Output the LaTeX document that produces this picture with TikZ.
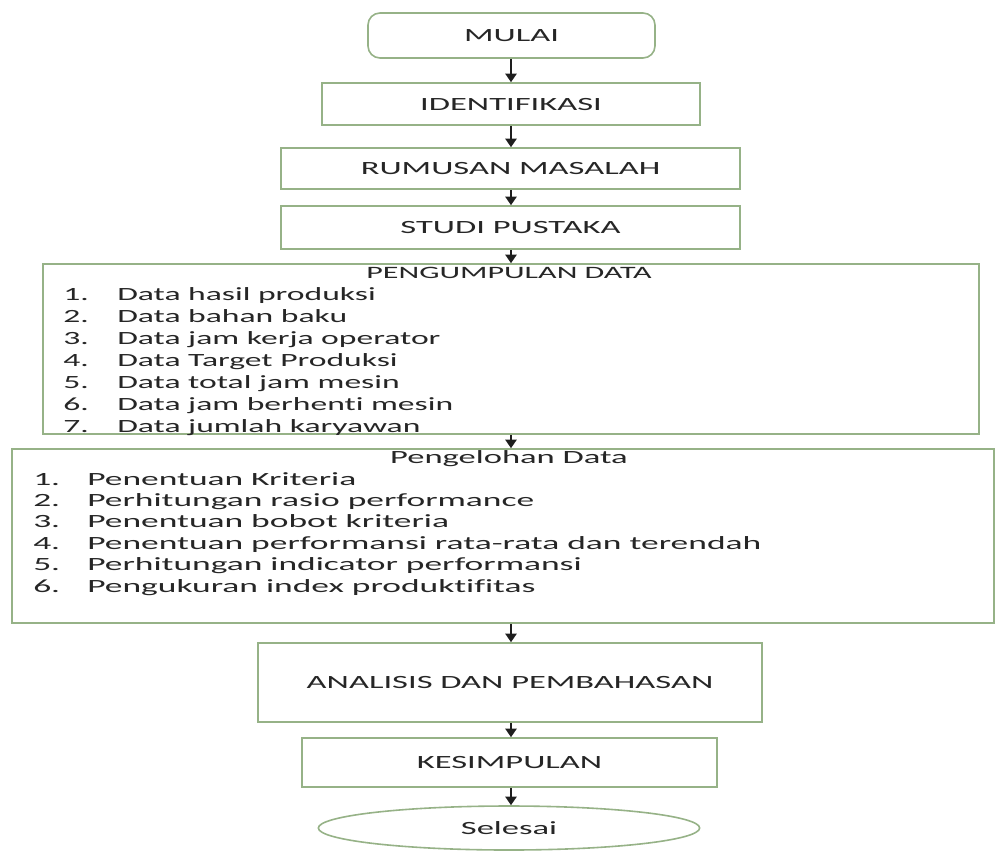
\documentclass[tikz,border=0pt]{standalone}
\usepackage{fontspec}
\setmainfont{Carlito}[Ligatures=NoCommon]
\usepackage{graphicx}
\usetikzlibrary{fit,shapes.geometric,arrows.meta}
\definecolor{boxline}{RGB}{150,178,135}
\definecolor{txt}{RGB}{38,38,38}
\definecolor{arr}{RGB}{30,30,30}
\newcommand{\sx}[1]{\scalebox{1.85}[1]{#1}}
\newcommand{\sxa}[1]{\scalebox{1.8}[1]{#1}}
\newcommand{\sxb}[1]{\scalebox{1.9}[1]{#1}}
\begin{document}
\begin{tikzpicture}[x=0.75pt,y=-0.75pt,
  box/.style={draw=boxline, line width=1.2pt, inner sep=0pt, fill=white},
  lbl/.style={text=txt, font=\fontsize{14pt}{17pt}\selectfont, inner sep=0pt},
  flow/.style={draw=arr, line width=1.4pt, -{Triangle[width=8.5pt,length=6.5pt]}},
]
\useasboundingbox (0,0) rectangle (995,851);
\coordinate (ax) at (511,0);

\node[box, rounded corners=9pt, fit={(368,13) (655,58)}] (mulai) {};
\node[box, fit={(322,83) (700,125)}] (ident) {};
\node[box, fit={(281,148) (740,189)}] (rumusan) {};
\node[box, fit={(281,206) (740,249)}] (studi) {};
\node[box, fit={(43,264) (979,434)}] (kumpul) {};
\node[box, fit={(12,449) (994,623)}] (olah) {};
\node[box, fit={(258,643) (762,722)}] (analisis) {};
\node[box, fit={(302,738) (717,787)}] (kesimpulan) {};
\node[box, ellipse, minimum width=286pt, minimum height=33pt] (selesai) at (509,828) {};

% box texts
\node[lbl] (mulaiT) at (mulai.center) {\sx{MULAI}};
\node[lbl] (identT) at (ident.center) {\sx{IDENTIFIKASI}};
\node[lbl] (rumusanT) at (rumusan.center) {\sx{RUMUSAN MASALAH}};
\node[lbl] (studiT) at (studi.center) {\sx{STUDI PUSTAKA}};
\node[lbl] (analisisT) at (analisis.center) {\sx{ANALISIS DAN PEMBAHASAN}};
\node[lbl] (kesimpulanT) at (kesimpulan.center) {\sx{KESIMPULAN}};
\node[lbl] (selesaiT) at (selesai.center) {\sx{Selesai}};

% titles of list boxes
\node[lbl, anchor=base, font=\fontsize{13pt}{16pt}\selectfont] (kumpulT) at (509,278) {\sx{PENGUMPULAN DATA}};
\node[lbl, anchor=base] (olahT) at (509,463) {\sx{Pengelohan Data}};

% items of PENGUMPULAN DATA
\foreach \t [count=\i] in {Data hasil produksi, Data bahan baku, Data jam kerja operator, Data Target Produksi, Data total jam mesin, Data jam berhenti mesin, Data jumlah karyawan}{
  \pgfmathsetmacro\yy{278+22*\i}
  \node[lbl, anchor=base west] (kn\i) at (63,\yy) {\sxa{\i.}};
  \node[lbl, anchor=base west] (kt\i) at (117,\yy) {\sxa{\t}};
}
% items of Pengelohan Data
\foreach \t [count=\i] in {Penentuan Kriteria, Perhitungan rasio performance, Penentuan bobot kriteria, Penentuan performansi rata-rata dan terendah, Perhitungan indicator performansi, Pengukuran index produktifitas}{
  \pgfmathsetmacro\yy{463.6+21.4*\i}
  \node[lbl, anchor=base west] (on\i) at (33,\yy) {\sxb{\i.}};
  \node[lbl, anchor=base west] (ot\i) at (87,\yy) {\sxb{\t}};
}

% connectors
\draw[flow] (mulai.south -| ax) -- (ident.north -| ax);
\draw[flow] (ident.south -| ax) -- (rumusan.north -| ax);
\draw[flow] (rumusan.south -| ax) -- (studi.north -| ax);
\draw[flow] (studi.south -| ax) -- (kumpul.north -| ax);
\draw[flow] (kumpul.south -| ax) -- (olah.north -| ax);
\draw[flow] (olah.south -| ax) -- (analisis.north -| ax);
\draw[flow] (analisis.south -| ax) -- (kesimpulan.north -| ax);
\draw[flow] (kesimpulan.south -| ax) -- (selesai.north -| ax);
\end{tikzpicture}
\end{document}
